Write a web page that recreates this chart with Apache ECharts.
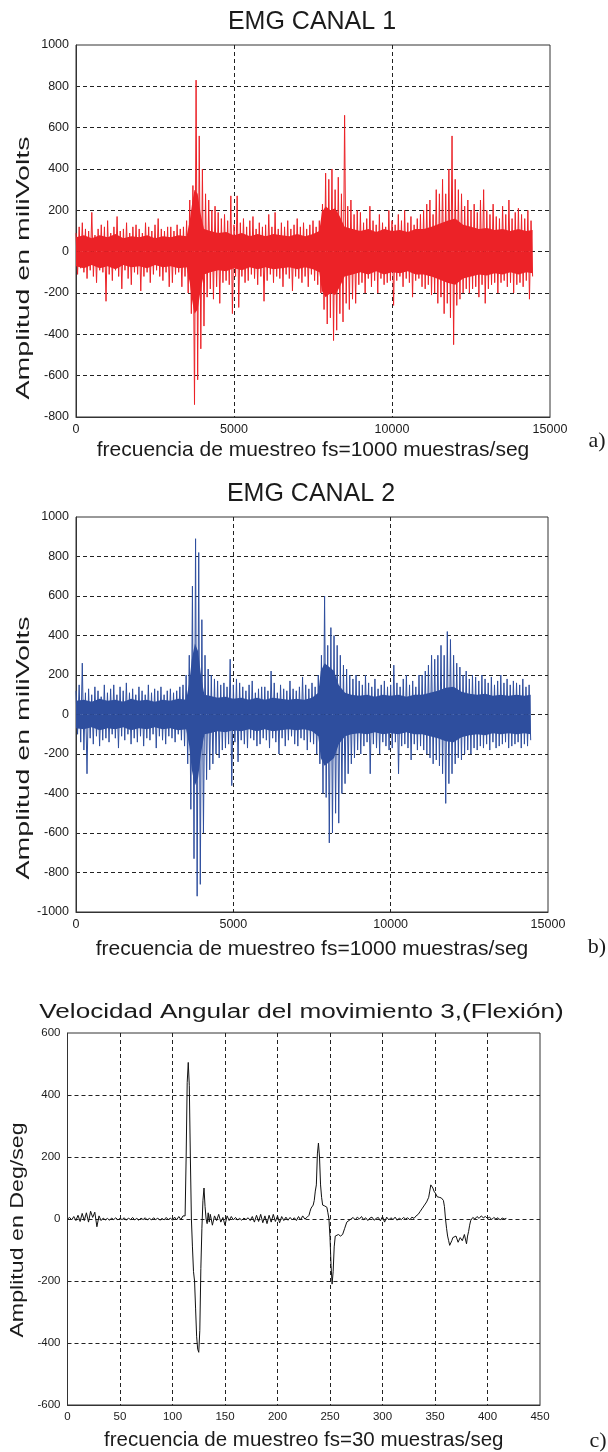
<!DOCTYPE html>
<html>
<head>
<meta charset="utf-8">
<script src="https://cdn.jsdelivr.net/npm/echarts/dist/echarts.min.js"></script>
<style>
  html, body { margin: 0; padding: 0; background: #fff; }
  #chart { width: 608px; height: 1452px; }
</style>
</head>
<body>
<div id="chart"></div>
<script>
// EMG traces are stored as alternating local peaks, one every emgStep samples.
const emgStep = 50;

// EMG CANAL 1 (mV), one row per 1000 samples
const emgCanal1 = [
  90,-110,120,-80,140,-100,110,-130,100,-90,190,-120,80,-150,110,-90,130,-100,120,-240,
  150,-110,90,-140,120,-90,170,-120,100,-180,110,-90,140,-130,90,-160,120,-100,130,-110,
  110,-190,90,-120,140,-100,120,-150,100,-110,130,-90,160,-120,110,-140,100,-100,120,-170,
  120,-150,100,-110,130,-100,110,-170,120,-120,150,-200,250,-300,320,-740,830,-620,560,-470,
  400,-360,280,-220,250,-180,200,-230,220,-170,190,-250,160,-150,180,-140,150,-160,270,-300,
  130,-120,270,-270,140,-120,160,-150,120,-140,150,-110,170,-130,110,-160,140,-120,120,-240,
  130,-140,180,-110,120,-150,190,-120,110,-130,140,-170,120,-110,150,-130,110,-190,130,-120,
  160,-130,120,-150,140,-120,110,-170,130,-110,150,-140,120,-160,150,-200,230,-280,380,-350,
  350,-320,400,-430,300,-380,360,-300,280,-340,660,-250,220,-280,250,-230,180,-250,200,-160,
  190,-150,140,-200,160,-130,220,-170,150,-140,130,-200,180,-130,140,-160,120,-150,200,-140,
  150,-260,130,-140,180,-120,150,-170,200,-130,140,-150,170,-220,130,-140,160,-130,180,-170,
  200,-180,230,-160,250,-210,180,-200,300,-250,280,-220,350,-300,280,-250,400,-320,560,-450,
  350,-260,300,-230,280,-200,220,-180,250,-200,200,-180,230,-170,190,-220,250,-160,300,-250,
  200,-180,180,-160,230,-150,170,-200,160,-150,220,-140,180,-170,250,-150,160,-200,190,-160,
  210,-150,180,-170,160,-140,200,-230,150,-120
];

// EMG CANAL 2 (mV), one row per 1000 samples
const emgCanal2 = [
  120,-100,150,-140,260,-180,110,-300,130,-120,100,-150,140,-110,120,-160,90,-130,150,-120,
  110,-140,130,-100,150,-120,100,-170,140,-110,120,-130,160,-100,110,-150,130,-120,100,-140,
  140,-110,120,-160,100,-120,150,-130,110,-100,130,-170,120,-110,140,-130,100,-150,120,-110,
  130,-120,110,-140,120,-100,140,-130,150,-160,200,-250,300,-480,650,-730,890,-920,820,-860,
  480,-600,300,-330,230,-280,200,-250,180,-200,170,-220,150,-180,160,-170,140,-150,280,-360,
  150,-140,180,-240,160,-130,140,-150,120,-170,150,-120,170,-130,110,-160,130,-150,140,-120,
  140,-130,120,-170,220,-120,160,-140,110,-200,150,-120,130,-160,120,-130,170,-110,130,-150,
  120,-160,140,-120,190,-130,150,-180,130,-140,160,-150,140,-200,200,-250,300,-400,600,-420,
  350,-650,440,-600,400,-500,350,-550,300,-400,250,-350,230,-300,200,-250,180,-220,200,-180,
  170,-200,150,-160,200,-140,160,-300,140,-150,180,-170,130,-200,150,-140,170,-160,140,-180,
  150,-170,250,-140,160,-300,140,-160,180,-150,200,-170,150,-230,170,-150,140,-180,200,-160,
  200,-180,220,-200,250,-220,300,-250,280,-230,300,-260,350,-300,300,-450,420,-350,380,-300,
  300,-250,260,-220,240,-230,200,-200,220,-180,180,-200,200,-170,190,-180,170,-160,200,-170,
  180,-150,160,-180,190,-140,150,-170,170,-160,200,-150,160,-140,180,-170,150,-160,170,-150,
  160,-140,150,-170,180,-150,140,-160,150,-130
];

// Dense core of each EMG trace: [sample, half-width in mV]
const emgNucleo1 = [
  [0,70],[250,80],[500,65],[750,80],[1000,70],[1250,85],[1500,65],[1750,75],[2000,70],[2250,80],
  [2500,65],[2750,75],[3000,70],[3250,80],[3500,75],[3600,150],[3680,240],[3750,300],[3850,280],
  [3950,180],[4050,110],[4250,100],[4500,90],[4750,95],[5000,80],[5250,90],[5500,75],[5750,85],
  [6000,75],[6250,85],[6500,80],[6750,75],[7000,85],[7250,75],[7500,85],[7700,100],[7780,190],
  [7900,220],[8050,200],[8200,210],[8350,170],[8500,120],[8750,110],[9000,100],[9250,110],
  [9500,95],[9750,110],[10000,100],[10250,105],[10500,95],[10750,110],[11000,110],[11250,120],
  [11500,135],[11750,150],[12000,160],[12250,130],[12500,120],[12750,110],[13000,115],[13250,105],
  [13500,110],[13750,100],[14000,110],[14250,100],[14450,105]
];
const emgNucleo2 = [
  [0,70],[250,75],[500,65],[750,80],[1000,70],[1250,75],[1500,65],[1750,80],[2000,70],[2250,75],
  [2500,65],[2750,75],[3000,70],[3250,80],[3500,75],[3600,160],[3680,280],[3780,360],[3880,320],
  [3980,190],[4080,100],[4250,95],[4500,85],[4750,90],[5000,80],[5250,85],[5500,75],[5750,85],
  [6000,75],[6250,85],[6500,80],[6750,75],[7000,80],[7250,75],[7500,85],[7700,110],[7780,220],
  [7900,260],[8050,240],[8200,220],[8350,150],[8550,110],[8750,100],[9000,95],[9250,100],
  [9500,90],[9750,100],[10000,95],[10250,100],[10500,90],[10750,100],[11000,100],[11250,110],
  [11500,120],[11750,135],[12000,140],[12250,115],[12500,105],[12750,100],[13000,105],[13250,95],
  [13500,100],[13750,95],[14000,100],[14250,95],[14450,100]
];

// Angular velocity of movement 3 (flexion): [sample, deg/s]
const velocidadAngular = [
  [0,0],[2,5],[4,-3],[6,8],[8,-5],[10,12],[12,-8],[14,18],[16,-5],[18,20],[20,-10],[22,25],
  [24,5],[26,22],[28,-25],[30,10],[32,-5],[34,3],[36,-3],[38,2],[40,-4],[42,3],[44,-2],[46,4],
  [48,-3],[50,2],[52,-2],[54,4],[56,-4],[58,3],[60,-2],[62,5],[64,-3],[66,2],[68,-4],[70,3],
  [72,-2],[74,4],[76,-3],[78,2],[80,-3],[82,4],[84,-2],[86,3],[88,-4],[90,2],[92,-3],[94,5],
  [96,-2],[98,3],[100,-4],[102,6],[104,-3],[106,8],[108,-2],[110,10],[111,5],
  [112,10],[113,200],[114,440],[115,505],[116,430],[117,200],[118,0],[119,-90],[120,-170],
  [121,-200],[122,-290],[123,-380],[124,-420],[125,-430],[126,-360],[127,-160],[128,-30],
  [129,60],[130,100],[131,40],[132,0],[133,-15],[134,20],[135,-10],[136,15],[138,-20],[140,10],
  [142,-5],[144,15],[146,-10],[148,5],[150,-20],[152,10],[154,-5],[156,8],[158,-3],[160,5],
  [162,-3],[164,2],[166,-4],[168,3],[170,-2],[172,4],[174,-5],[176,8],[178,-10],[180,12],
  [182,-8],[184,15],[186,-12],[188,10],[190,-15],[192,12],[194,-10],[196,15],[198,-8],[200,10],
  [202,-12],[204,8],[206,-5],[208,6],[210,-4],[212,5],[214,-3],[216,4],[218,-5],[220,8],
  [222,-3],[224,10],[226,0],[228,5],[230,12],
  [231,25],[232,35],[233,40],[234,45],[235,60],[236,90],[237,110],[238,210],[239,245],[240,200],
  [241,110],[242,70],[243,45],[244,40],[245,42],[246,40],[247,38],[248,20],[249,0],[250,-60],
  [251,-150],[252,-210],[253,-170],[254,-90],[255,-55],[256,-60],[258,-50],[260,-55],[262,-50],
  [264,-30],[266,-10],[268,-5],[270,0],
  [272,5],[274,-3],[276,6],[278,0],[280,8],[282,-2],[284,4],[286,-5],[288,3],[290,6],[292,-4],
  [294,2],[296,5],[298,-6],[300,8],[302,-10],[304,6],[306,-3],[308,4],[310,-2],[312,6],[314,-4],
  [316,3],[318,-2],[320,5],[322,0],[324,4],[326,-3],[328,6],[330,2],[332,10],[334,15],
  [336,25],[338,35],[340,45],[342,55],[344,70],[345,90],[346,110],[347,115],[348,100],[349,90],
  [350,85],[351,80],[352,72],[353,70],[354,70],[356,68],[358,60],[359,40],[360,0],[361,-30],
  [362,-55],[363,-70],[364,-85],[365,-90],[366,-70],[367,-60],[368,-65],[370,-55],[372,-75],
  [374,-60],[376,-70],[378,-50],[380,-80],[381,-55],[382,-40],[383,-20],[384,-5],[386,5],
  [388,0],[390,8],[392,2],[394,10],[396,4],[398,8],[400,2],[402,6],[404,-2],[406,5],[408,0],
  [410,4],[412,-3],[414,3],[416,0],[418,2]
];

const titles = ['EMG CANAL 1', 'EMG CANAL 2', 'Velocidad Angular del movimiento 3,(Flexión)'];
const xLabels = [
  'frecuencia de muestreo fs=1000 muestras/seg',
  'frecuencia de muestreo fs=1000 muestras/seg',
  'frecuencia de muestreo fs=30 muestras/seg'
];
const yLabels = ['Amplitud en miliVolts', 'Amplitud en miliVolts', 'Amplitud en Deg/seg'];
const panelTags = ['a)', 'b)', 'c)'];

const toSeries = (vals, step) => vals.map((v, i) => [i * step, v]);

const SANS = '"Liberation Sans", Arial, sans-serif';
const SERIF = '"Liberation Serif", "Times New Roman", serif';
const INK = '#1b1b1b';
const FRAME = '#333';
const RED = '#ec2227';
const BLUE = '#2e4e9e';

const grids = [
  { left: 76, top: 45, width: 474, height: 372 },
  { left: 76, top: 517, width: 472, height: 395 },
  { left: 67.5, top: 1033, width: 472.5, height: 373 }
].map(g => Object.assign({ show: true, borderColor: FRAME, borderWidth: 1, backgroundColor: '#fff' }, g));

const gridLine = { show: true, showMinLine: false, showMaxLine: false,
  lineStyle: { type: [4, 3], color: '#222', width: 1 } };

function xAxis(i, max, interval, font, gap) {
  return {
    type: 'value', gridIndex: i, min: 0, max: max, interval: interval,
    axisLine: { show: true, onZero: false, lineStyle: { color: FRAME, width: 1 } },
    axisTick: { show: false },
    axisLabel: { color: INK, fontFamily: SANS, fontSize: font, margin: 6, formatter: v => String(v) },
    splitLine: gridLine,
    name: xLabels[i], nameLocation: 'middle', nameGap: gap,
    nameTextStyle: { color: INK, fontFamily: SANS, fontSize: i === 2 ? 20.5 : 21 }
  };
}
function yAxis(i, min, max, font) {
  return {
    type: 'value', gridIndex: i, min: min, max: max, interval: 200,
    axisLine: { show: true, lineStyle: { color: FRAME, width: 1 } },
    axisTick: { show: false },
    axisLabel: { color: INK, fontFamily: SANS, fontSize: font, margin: 7, formatter: v => String(v) },
    splitLine: gridLine
  };
}

// Solid core band: one area from 0 up to +c and one from 0 down to -c
function coreBand(idx, pts, color) {
  const base = { type: 'line', xAxisIndex: idx, yAxisIndex: idx, showSymbol: false, silent: true,
    lineStyle: { width: 0 }, areaStyle: { color: color, opacity: 1, origin: 0 } };
  return [
    Object.assign({ data: pts.map(p => [p[0], p[1]]) }, base),
    Object.assign({ data: pts.map(p => [p[0], -p[1]]) }, base)
  ];
}

function text(str, x, y, font, extra) {
  return Object.assign({
    type: 'text', x: x, y: y, silent: true,
    style: { text: str, font: font, fill: INK, align: 'center', verticalAlign: 'middle',
             textAlign: 'center', textVerticalAlign: 'middle' }
  }, extra || {});
}

const graphics = [
  text(titles[0], 312, 22, '25px ' + SANS),
  text(titles[1], 311, 494, '25px ' + SANS),
  text(titles[2], 301.5, 1013, '19.5px ' + SANS, { scaleX: 1.34 }),
  text(yLabels[0], 24, 268, '19px ' + SANS, { rotation: Math.PI / 2, scaleX: 1.5 }),
  text(yLabels[1], 24, 748, '19px ' + SANS, { rotation: Math.PI / 2, scaleX: 1.5 }),
  text(yLabels[2], 18, 1230, '19px ' + SANS, { rotation: Math.PI / 2, scaleX: 1.22 }),
  text(panelTags[0], 597, 441, '22px ' + SERIF),
  text(panelTags[1], 597, 947, '22px ' + SERIF),
  text(panelTags[2], 598, 1441, '22px ' + SERIF)
];

const chart = echarts.init(document.getElementById('chart'), null, { renderer: 'canvas' });
chart.setOption({
  animation: false,
  backgroundColor: '#fff',
  grid: grids,
  xAxis: [xAxis(0, 15000, 5000, 12.5, 23), xAxis(1, 15000, 5000, 12.5, 27), xAxis(2, 450, 50, 11.5, 25)],
  yAxis: [yAxis(0, -800, 1000, 12.5), yAxis(1, -1000, 1000, 12.5), yAxis(2, -600, 600, 11.5)],
  series: [
    ...coreBand(0, emgNucleo1, RED),
    { type: 'line', xAxisIndex: 0, yAxisIndex: 0, data: toSeries(emgCanal1, emgStep),
      showSymbol: false, silent: true, lineStyle: { color: RED, width: 1 } },
    ...coreBand(1, emgNucleo2, BLUE),
    { type: 'line', xAxisIndex: 1, yAxisIndex: 1, data: toSeries(emgCanal2, emgStep),
      showSymbol: false, silent: true, lineStyle: { color: BLUE, width: 1 } },
    { type: 'line', xAxisIndex: 2, yAxisIndex: 2, data: velocidadAngular,
      showSymbol: false, silent: true, lineStyle: { color: '#111', width: 1 } }
  ],
  graphic: graphics
});
</script>
</body>
</html>
